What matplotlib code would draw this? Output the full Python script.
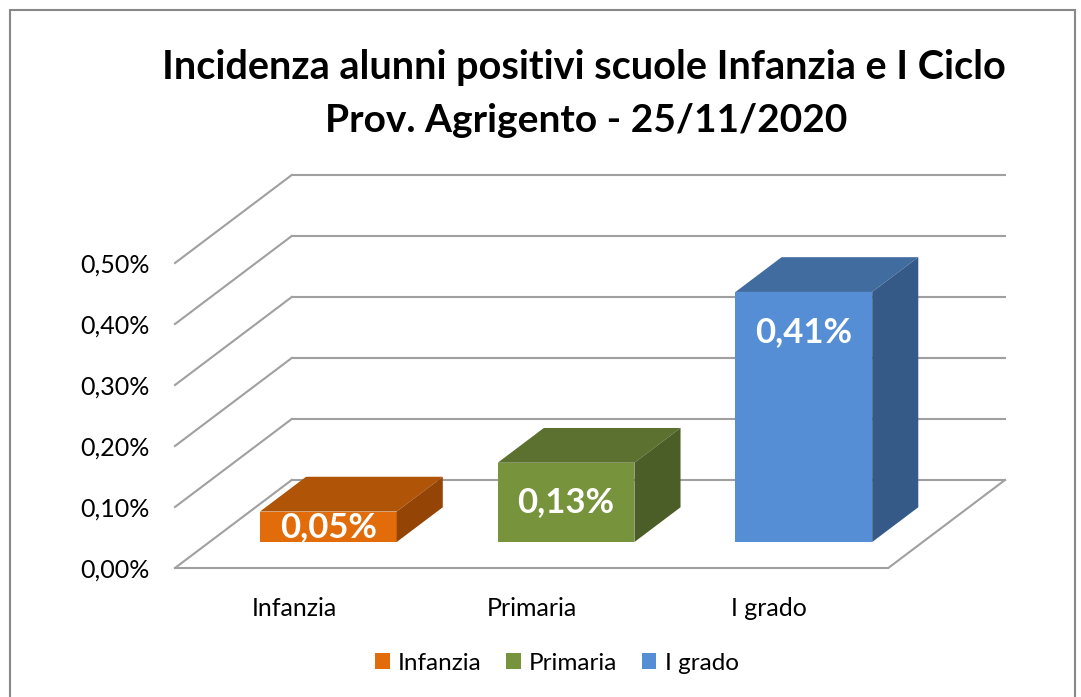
import matplotlib.pyplot as plt
from matplotlib.patches import Polygon, Rectangle, Patch

categories = ['Infanzia', 'Primaria', 'I grado']
values = [0.05, 0.13, 0.41]   # percent
value_labels = ['0,05%', '0,13%', '0,41%']
ytick_values = [0.0, 0.1, 0.2, 0.3, 0.4, 0.5]
ytick_labels = ['0,00%', '0,10%', '0,20%', '0,30%', '0,40%', '0,50%']

front_colors = ['#E36C0A', '#77933C', '#558ED5']
top_colors = ['#B05407', '#5C7030', '#416C9F']
side_colors = ['#944506', '#4B5E27', '#365A87']

plt.rcParams['font.family'] = ['Lato', 'DejaVu Sans']

W, H = 1081, 697
fig = plt.figure(figsize=(W / 100, H / 100), dpi=100)

# fake 3d: depth offsets in data units
DX = 0.491
DY = 0.1443
d0, d1 = 0.295, 0.69   # bar front/back depth fraction
half_w = 0.2875

ax = fig.add_axes([175 / W, 1 - 568 / H, 830 / W, 393 / H])
ax.set_xlim(-0.5, 2.5 + DX)
ax.set_ylim(0, max(ytick_values) + DY)
for s in ax.spines.values():
    s.set_visible(False)

grid_c = '#A0A0A0'
for v in ytick_values:
    ax.plot([-0.5, -0.5 + DX], [v, v + DY], color=grid_c, lw=1.5, zorder=1, clip_on=False)
    ax.plot([-0.5 + DX, 2.5 + DX], [v + DY, v + DY], color=grid_c, lw=1.5, zorder=1, clip_on=False)
# floor
ax.plot([-0.5, 2.5, 2.5 + DX], [0, 0, DY], color=grid_c, lw=1.5, zorder=1, clip_on=False)

for i, (val, lab) in enumerate(zip(values, value_labels)):
    cx = i + d0 * DX
    y0 = d0 * DY
    x_l, x_r = cx - half_w, cx + half_w
    ddx, ddy = (d1 - d0) * DX, (d1 - d0) * DY
    top = y0 + val
    ax.add_patch(Polygon([(x_l, y0), (x_r, y0), (x_r, top), (x_l, top)],
                         closed=True, facecolor=front_colors[i], edgecolor='none', zorder=3))
    ax.add_patch(Polygon([(x_l, top), (x_r, top), (x_r + ddx, top + ddy), (x_l + ddx, top + ddy)],
                         closed=True, facecolor=top_colors[i], edgecolor='none', zorder=3))
    ax.add_patch(Polygon([(x_r, y0), (x_r + ddx, y0 + ddy), (x_r + ddx, top + ddy), (x_r, top)],
                         closed=True, facecolor=side_colors[i], edgecolor='none', zorder=3))
    ly = max(y0 + val / 2, top - 0.0656)
    ax.text(cx, ly, lab, ha='center', va='center', color='white',
            fontsize=25, fontweight='bold', zorder=4)

ax.set_yticks(ytick_values)
ax.set_yticklabels(ytick_labels, fontsize=18)
ax.set_xticks(range(len(categories)))
ax.set_xticklabels(categories, fontsize=18)
ax.tick_params(axis='both', length=0)
ax.tick_params(axis='y', pad=18)
ax.tick_params(axis='x', pad=21)

fig.text(584 / W, 1 - 68 / H, 'Incidenza alunni positivi scuole Infanzia e I Ciclo',
         ha='center', va='center', fontsize=28.5, fontweight='bold')
fig.text(586 / W, 1 - 120 / H, 'Prov. Agrigento - 25/11/2020',
         ha='center', va='center', fontsize=28, fontweight='bold')

handles = [Patch(facecolor=c, edgecolor='none') for c in front_colors]
fig.legend(handles, categories, loc='center', bbox_to_anchor=(557 / W, 1 - 663 / H),
           ncol=3, frameon=False, fontsize=17.5, handlelength=0.6, handleheight=0.6,
           handletextpad=0.35, columnspacing=1.0)

fig.patches.append(Rectangle((10 / W, -0.05), 1065 / W, 1.05 - 10 / H, transform=fig.transFigure,
                             fill=False, edgecolor='#888888', lw=1.5))

fig.savefig('out.png', dpi=100)
